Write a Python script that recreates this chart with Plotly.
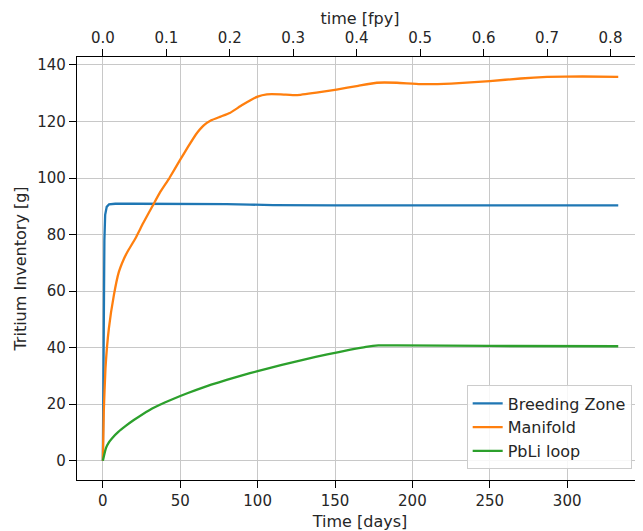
import plotly.graph_objects as go

# ---- data ----
bz_days = [0, 0.3, 0.6, 1.0, 1.5, 2.5, 4, 8, 20, 40, 60, 80, 95, 110, 150, 200, 250, 300, 333]
bz_vals = [0, 25, 55, 78, 87, 89.8, 90.7, 90.9, 90.9, 90.9, 90.9, 90.8, 90.6, 90.4, 90.3, 90.3, 90.3, 90.3, 90.3]

mf_days = [0, 0.6, 1.7, 3.9, 7.1, 10.3, 13.5, 16, 21, 26, 32, 37, 43, 50, 55, 60, 65, 70, 76, 82, 90, 100, 106, 115, 125, 138, 151, 165, 177, 190, 205, 225, 250, 270, 287, 310, 333]
mf_vals = [0, 17.5, 32.7, 46.8, 58.5, 66.7, 71.3, 74, 78.6, 84, 90, 95, 100, 106.5, 111, 115.3, 118.5, 120.4, 121.7, 123, 125.8, 128.8, 129.6, 129.6, 129.3, 130.2, 131.3, 132.6, 133.7, 133.7, 133.2, 133.4, 134.3, 135.2, 135.8, 135.9, 135.8]

pb_days = [0, 2, 4, 6, 10, 15, 20, 30, 40, 50, 60, 70, 80, 90, 100, 115, 130, 145, 160, 170, 178, 190, 250, 333]
pb_vals = [0, 4.5, 6.6, 8.0, 10.2, 12.4, 14.4, 17.9, 20.6, 22.9, 25.0, 26.9, 28.6, 30.2, 31.7, 33.8, 35.8, 37.6, 39.3, 40.3, 40.8, 40.8, 40.6, 40.5]

FPY_DAYS = 410.0
fpy_ticks = [0.0, 0.1, 0.2, 0.3, 0.4, 0.5, 0.6, 0.7, 0.8]
day_ticks = [0, 50, 100, 150, 200, 250, 300]
y_ticks = [0, 20, 40, 60, 80, 100, 120, 140]

FONT = "DejaVu Sans"
FS = 15
FS_T = 16
TXT = "#262626"

x_range = [-16.7, 349.0]

fig = go.Figure()
fig.add_trace(go.Scatter(x=bz_days, y=bz_vals, name="Breeding Zone", mode="lines",
                         line=dict(color="#1f77b4", width=2.3)))
fig.add_trace(go.Scatter(x=mf_days, y=mf_vals, name="Manifold", mode="lines",
                         line=dict(color="#ff7f0e", width=2.3, shape="spline", smoothing=0.3)))
fig.add_trace(go.Scatter(x=pb_days, y=pb_vals, name="PbLi loop", mode="lines",
                         line=dict(color="#2ca02c", width=2.3, shape="spline", smoothing=0.5)))
# helper trace so the top (fpy) axis is drawn
fig.add_trace(go.Scatter(x=[0, 0.8], y=[0, 0], xaxis="x2", mode="lines", opacity=0,
                         showlegend=False, hoverinfo="skip"))

axis_common = dict(ticks="outside", ticklen=7, tickwidth=1, tickcolor="black",
                   showline=True, linecolor="black", linewidth=1.2, automargin=False,
                   tickfont=dict(family=FONT, size=FS, color=TXT), zeroline=False)

# the page body adds an 8px offset, margins compensate for it
fig.update_layout(
    width=643, height=531,
    margin=dict(l=69, r=8, t=49, b=59),
    paper_bgcolor="white", plot_bgcolor="white",
    font=dict(family=FONT, size=FS, color=TXT),
    xaxis=dict(range=x_range, tickvals=day_ticks, showgrid=True, gridcolor="#c8c8c8", gridwidth=1,
               title=dict(text="Time [days]", standoff=6, font=dict(family=FONT, size=FS_T, color=TXT)),
               **axis_common),
    xaxis2=dict(range=[x_range[0] / FPY_DAYS, x_range[1] / FPY_DAYS], overlaying="x", side="top",
                tickvals=fpy_ticks, tickformat=".1f", showgrid=False,
                title=dict(text="time [fpy]", standoff=0, font=dict(family=FONT, size=FS_T, color=TXT)),
                **axis_common),
    yaxis=dict(range=[-6.8, 142.8], tickvals=y_ticks, showgrid=True, gridcolor="#c8c8c8", gridwidth=1,
               title=dict(text="Tritium Inventory [g]", standoff=6, font=dict(family=FONT, size=FS_T, color=TXT)),
               **axis_common),
    legend=dict(x=0.98, y=0.025, xanchor="right", yanchor="bottom",
                bgcolor="rgba(255,255,255,0.85)", bordercolor="#cccccc", borderwidth=1,
                font=dict(family=FONT, size=FS_T, color=TXT), itemwidth=30, tracegroupgap=0),
    showlegend=True,
)

fig.write_html("out.html")
